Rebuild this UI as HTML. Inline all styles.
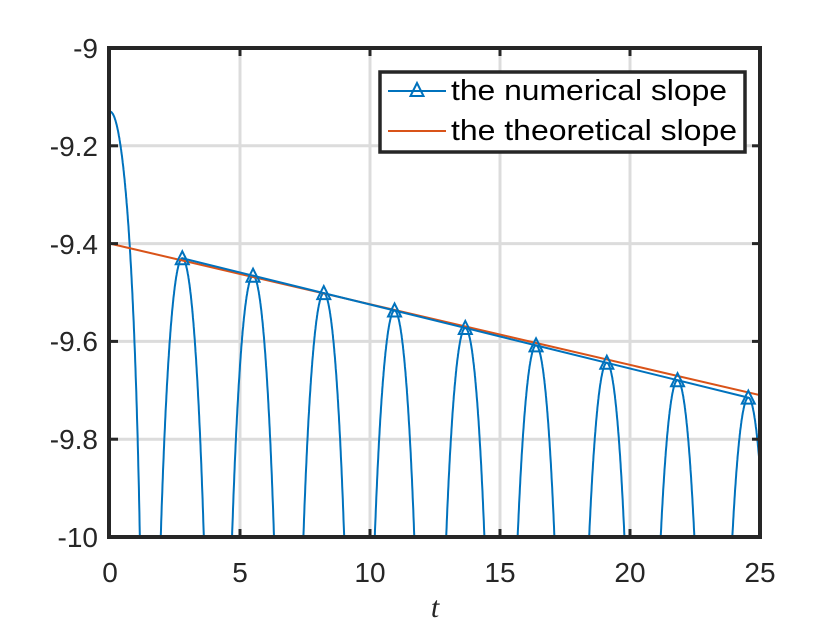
<!DOCTYPE html>
<html><head><meta charset="utf-8"><style>
html,body{margin:0;padding:0;background:#fff;width:840px;height:630px;overflow:hidden;}
svg{display:block;position:absolute;left:0;top:0;font-family:"Liberation Sans",sans-serif;}
</style></head><body>
<svg id="s" width="840" height="630" viewBox="0 0 840 630">
<rect width="840" height="630" fill="#fff"/>
<g stroke="#dcdcdc" stroke-width="3">
<line x1="240" y1="48" x2="240" y2="537"/><line x1="370" y1="48" x2="370" y2="537"/>
<line x1="500" y1="48" x2="500" y2="537"/><line x1="630" y1="48" x2="630" y2="537"/>
<line x1="110" y1="145.8" x2="760" y2="145.8"/><line x1="110" y1="243.6" x2="760" y2="243.6"/>
<line x1="110" y1="341.4" x2="760" y2="341.4"/><line x1="110" y1="439.2" x2="760" y2="439.2"/>
</g>
<g id="d" clip-path="url(#c)"></g>
<clipPath id="c"><rect x="110" y="48" width="650" height="489"/></clipPath>
<rect x="109" y="48" width="651" height="489" fill="none" stroke="#262626" stroke-width="4"/>
<g stroke="#262626" stroke-width="3">
<line x1="240" y1="48" x2="240" y2="56"/><line x1="370" y1="48" x2="370" y2="56"/><line x1="500" y1="48" x2="500" y2="56"/><line x1="630" y1="48" x2="630" y2="56"/>
<line x1="240" y1="537" x2="240" y2="529"/><line x1="370" y1="537" x2="370" y2="529"/><line x1="500" y1="537" x2="500" y2="529"/><line x1="630" y1="537" x2="630" y2="529"/>
<line x1="110" y1="145.8" x2="118" y2="145.8"/><line x1="110" y1="243.6" x2="118" y2="243.6"/><line x1="110" y1="341.4" x2="118" y2="341.4"/><line x1="110" y1="439.2" x2="118" y2="439.2"/>
<line x1="760" y1="145.8" x2="752" y2="145.8"/><line x1="760" y1="243.6" x2="752" y2="243.6"/><line x1="760" y1="341.4" x2="752" y2="341.4"/><line x1="760" y1="439.2" x2="752" y2="439.2"/>
</g>
<g font-size="28" fill="#262626" text-anchor="end">
<text x="98" y="58">-9</text><text x="98" y="156">-9.2</text><text x="98" y="254">-9.4</text>
<text x="98" y="351">-9.6</text><text x="98" y="449">-9.8</text><text x="98" y="547">-10</text>
</g>
<g font-size="28" fill="#262626" text-anchor="middle">
<text x="110" y="582">0</text><text x="240" y="582">5</text><text x="370" y="582">10</text>
<text x="500" y="582">15</text><text x="630" y="582">20</text><text x="760" y="582">25</text>
</g>
<text x="435" y="617" font-size="30" font-style="italic" font-family="Liberation Serif,serif" fill="#262626" text-anchor="middle">t</text>
<rect x="380" y="72" width="365" height="80" fill="#fff" stroke="#262626" stroke-width="3.5"/>
<line x1="388" y1="91" x2="446" y2="91" stroke="#0072bd" stroke-width="2"/>
<polygon points="417,83 410.5,96 423.5,96" fill="none" stroke="#0072bd" stroke-width="2"/>
<line x1="388" y1="131" x2="446" y2="131" stroke="#d95319" stroke-width="2"/>
<text x="451" y="100" font-size="29" fill="#000" textLength="276" lengthAdjust="spacingAndGlyphs">the numerical slope</text>
<text x="451" y="140" font-size="29" fill="#000" textLength="286" lengthAdjust="spacingAndGlyphs">the theoretical slope</text>
</svg>
<script>
var X=t=>110+26*t, Y=v=>48+489*(-9-v);
var g=document.getElementById('d'),ns='http://www.w3.org/2000/svg';
function P(d,c,w){var p=document.createElementNS(ns,'path');p.setAttribute('d',d);p.setAttribute('fill','none');p.setAttribute('stroke',c);p.setAttribute('stroke-width',w);g.appendChild(p);}
var T=2.73,peaks=[];
for(var k=0;k<9;k++){var tp=2.78+k*(24.55-2.78)/8;var pv=-9.43-k*(0.285/8);peaks.push([tp,pv]);}
var d='';
var s='';for(var t=0;t<=1.3;t+=0.01){var c=Math.cos(Math.PI*t/T);var v=-9.13+1.43*Math.log10(Math.max(c,1e-6));s+=(s?'L':'M')+X(t).toFixed(1)+','+Y(v).toFixed(1);}
d+=s;
peaks.forEach(function(p){var s='';for(var u=-1.1;u<=1.1;u+=0.01){var c=Math.cos(Math.PI*u/T);var v=p[1]+2.4*Math.log10(c);s+=(s?'L':'M')+X(p[0]+u).toFixed(1)+','+Y(v).toFixed(1);}d+=s;});
P(d,'#0072bd',2);
P('M'+X(0)+','+Y(-9.4)+'L'+X(25)+','+Y(-9.71),'#d95319',2);
var s2='';peaks.forEach(function(p,i){s2+=(i?'L':'M')+X(p[0])+','+Y(p[1]);});P(s2,'#0072bd',2);
peaks.forEach(function(p){var x=X(p[0]),y=Y(p[1]);var q=document.createElementNS(ns,'polygon');q.setAttribute('points',x+','+(y-7)+' '+(x-6.5)+','+(y+6)+' '+(x+6.5)+','+(y+6));q.setAttribute('fill','none');q.setAttribute('stroke','#0072bd');q.setAttribute('stroke-width','2');g.appendChild(q);});
</script>
</body></html>
